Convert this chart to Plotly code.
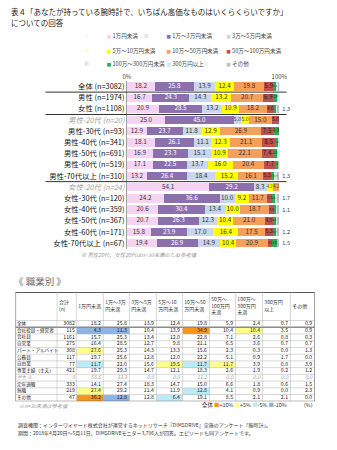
import plotly.graph_objects as go

W, H = 337, 450
FONT = "Noto Sans CJK JP, Noto Sans, sans-serif"


def fx(p):
    return p / W


def fy(p):
    return 1 - p / H


# ---------------- data: stacked bar chart ----------------
bands = ["1万円未満", "1万～3万円未満", "3万～5万円未満", "5万～10万円未満", "10万～50万円未満",
         "50万～100万円未満", "100万～300万円未満", "300万円以上", "その他"]
band_colors = ["#F4D4F2", "#8C70AE", "#C8D7EC", "#FFFF00", "#F5A05A",
               "#C0504D", "#2FA84F", "#C9E8EF", "#BFBFBF"]
band_text_colors = ["#333", "#FFFFFF", "#333", "#333", "#333", "#222", "#222", "#333", "#333"]

groups = ["全体 (n=3082)", "男性 (n=1974)", "女性 (n=1108)",
          "男性-20代 (n=20)", "男性-30代 (n=93)", "男性-40代 (n=341)", "男性-50代 (n=691)",
          "男性-60代 (n=519)", "男性-70代以上 (n=310)",
          "女性-20代 (n=24)", "女性-30代 (n=120)", "女性-40代 (n=359)", "女性-50代 (n=367)",
          "女性-60代 (n=171)", "女性-70代以上 (n=67)"]
reference_groups = ["男性-20代 (n=20)", "女性-20代 (n=24)"]

v_lt1 = [18.2, 16.7, 20.9, 25.0, 12.9, 18.1, 16.9, 17.1, 13.2, 54.1, 24.2, 20.6, 20.7, 15.8, 19.4]
v_1_3 = [25.8, 24.3, 28.5, 45.0, 23.7, 26.1, 23.3, 22.5, 26.4, 29.2, 36.6, 30.4, 26.3, 23.9, 26.9]
v_3_5 = [13.9, 14.3, 13.2, 5.0, 11.8, 11.1, 15.1, 13.7, 18.4, 8.3, 10.0, 13.4, 12.3, 17.0, 14.9]
v_5_10 = [12.4, 13.2, 10.9, 5.0, 12.9, 12.3, 10.9, 16.0, 15.2, 4.2, 9.2, 10.0, 10.4, 16.4, 10.4]
v_10_50 = [19.8, 20.7, 18.2, 15.0, 26.9, 21.1, 22.1, 20.4, 16.1, 4.2, 11.7, 18.7, 21.0, 17.5, 20.9]
v_50_100 = [5.9, 6.9, 4.6, 5.0, 7.5, 8.5, 7.4, 7.7, 5.2, 0.0, 3.3, 3.6, 4.9, 5.3, 3.0]
v_100_300 = [2.4, 2.9, 1.7, 0.0, 4.3, 2.3, 3.2, 1.9, 2.3, 0.0, 2.5, 1.4, 2.4, 2.3, 3.0]
v_300 = [0.7, 0.8, 0.7, 0.0, 0.0, 0.3, 0.9, 0.4, 1.9, 0.0, 0.8, 0.8, 0.6, 0.6, 0.0]
v_other = [0.9, 0.2, 1.3, 0.0, 0.0, 0.2, 0.2, 0.3, 1.3, 0.0, 1.7, 1.1, 1.4, 1.2, 1.5]
band_values = [v_lt1, v_1_3, v_3_5, v_5_10, v_10_50, v_50_100, v_100_300, v_300, v_other]
separator_after = [0, 2, 8]   # lines under 全体, 女性, 男性-70代以上

# ---------------- data: occupation table ----------------
table_headers = ["", "合計<br>(n)", "1万円未満", "1万～3万<br>円未満", "3万～5万<br>円未満",
                 "5万～10<br>万円未満", "10万～50<br>万円未満", "50万～<br>100万円<br>未満",
                 "100万～<br>300万円<br>未満", "300万円<br>以上", "その他"]
occupations = ["全体", "会社役員・経営者", "会社員", "自営業", "パート・アルバイト", "公務員",
               "自由業", "専業主婦（主夫）", "学生 ※", "定年退職", "無職", "その他"]
reference_occupations = ["学生 ※"]
occ_n = [3082, 115, 1161, 275, 308, 117, 77, 421, 9, 333, 219, 47]
t_lt1 = [18.2, 4.3, 15.7, 16.4, 27.6, 19.7, 11.7, 19.7, 55.6, 14.1, 27.4, 36.2]
t_1_3 = [25.8, 11.3, 25.3, 28.5, 25.3, 25.6, 22.0, 29.3, 33.3, 27.4, 29.2, 12.8]
t_3_5 = [13.9, 10.4, 13.4, 12.7, 14.3, 12.8, 15.6, 14.7, 0.0, 18.3, 11.4, 12.8]
t_5_10 = [12.4, 13.9, 12.0, 9.8, 13.3, 12.0, 19.5, 12.1, 0.0, 14.7, 11.9, 6.4]
t_10_50 = [19.8, 34.9, 22.8, 21.1, 15.6, 22.2, 11.7, 18.3, 11.1, 15.0, 12.8, 19.1]
t_50_100 = [5.9, 10.4, 7.1, 6.5, 2.3, 5.1, 11.7, 2.6, 0.0, 6.6, 4.1, 8.5]
t_100_300 = [2.4, 10.4, 2.6, 3.6, 0.3, 0.9, 3.9, 1.9, 0.0, 1.8, 0.9, 2.1]
t_300 = [0.7, 3.5, 0.8, 0.7, 0.0, 1.7, 0.0, 0.2, 0.0, 0.6, 0.0, 2.1]
t_other = [0.9, 0.9, 0.3, 0.7, 1.3, 0.0, 3.9, 1.2, 0.0, 1.5, 2.3, 0.0]
table_cols = [t_lt1, t_1_3, t_3_5, t_5_10, t_10_50, t_50_100, t_100_300, t_300, t_other]

hl_colors = ["#FFFFFF", "#8DB4E2", "#BDEAF7", "#FFFF8C", "#F7941D"]   # none, -10, -5, +5, +10
hl_legend = [("+10%", "#F7941D"), ("+5%", "#FFFF8C"), ("-5%", "#BDEAF7"), ("-10%", "#8DB4E2")]

# ---------------- layout constants (pixels) ----------------
BAR_X0, BAR_X1 = 127.5, 285.5
BAR_Y0, BAR_Y1 = 80.1, 248.3
BAR_FONT = 6.3
TAB_X0 = 12
col_widths = [43, 20, 28, 27, 28, 27, 28, 27, 28, 29, 25]
TAB_Y0 = 291.7
header_h = 28.5
row_h = 6.75
legend_cols_px = [65, 127, 189]
legend_rows_px = [35, 49.5, 63]

fig = go.Figure()

# ---- stacked bars ----
ypos = list(range(len(groups)))
px_per_pct = (BAR_X1 - BAR_X0) / 100.0
lab_x, lab_y, lab_t, lab_s, lab_c = [], [], [], [], []
for bi, (name, vals) in enumerate(zip(bands, band_values)):
    last = bi == len(bands) - 1
    fig.add_trace(go.Bar(
        y=ypos, x=vals, orientation="h", name=name, showlegend=False,
        marker=dict(color=band_colors[bi], line=dict(width=0)),
        text=[(f"{v:.1f}" if v >= 1.0 else "") for v in vals] if last else None,
        texttemplate="%{text}" if last else None,
        textposition="outside" if last else "none",
        textfont=dict(size=5.6, color="#444", family=FONT),
        cliponaxis=False, hoverinfo="skip", xaxis="x", yaxis="y"))
    if not last:
        for gi, v in enumerate(vals):
            start = sum(band_values[k][gi] for k in range(bi))
            if v >= 1.9:
                s = f"{v:.1f}"
                wpx = v * px_per_pct
                size = min(BAR_FONT, 0.92 * wpx / (0.57 * (len(s) - 1) + 0.27))
                lab_x.append(start + v / 2)
                lab_y.append(gi)
                lab_t.append(s)
                lab_s.append(size)
                lab_c.append(band_text_colors[bi])
fig.add_trace(go.Scatter(
    x=lab_x, y=lab_y, text=lab_t, mode="text", textposition="middle center",
    textfont=dict(size=lab_s, color=lab_c, family=FONT),
    hoverinfo="skip", showlegend=False, xaxis="x", yaxis="y", cliponaxis=False))

# ---- legend entries: one small legend per entry, 3 x 3 grid ----
legend_layout = {}
for bi, name in enumerate(bands):
    lid = "legend" if bi == 0 else f"legend{bi + 1}"
    fig.add_trace(go.Scatter(
        x=[None], y=[None], mode="markers", legend=lid,
        name=f"<span style='color:{band_colors[bi]};font-size:4.5px'>■</span> {name}",
        marker=dict(symbol="square", size=4, color=band_colors[bi], opacity=0),
        hoverinfo="skip", xaxis="x", yaxis="y"))
    legend_layout[lid] = dict(
        orientation="h", x=fx(legend_cols_px[bi % 3]), xanchor="left",
        y=fy(legend_rows_px[bi // 3]), yanchor="middle", itemwidth=30,
        font=dict(size=5.6, color="#444", family=FONT), bgcolor="rgba(0,0,0,0)",
        itemclick=False, itemdoubleclick=False)

# ---- occupation table: cell fills as heatmap ----
x_edges = [0]
for w in col_widths:
    x_edges.append(x_edges[-1] + w)
y_edges = [0, header_h] + [header_h + row_h * (i + 1) for i in range(len(occupations))]
tab_w = x_edges[-1]
tab_h = y_edges[-1]

base = [c[0] for c in table_cols]
z = [[0] * len(col_widths)]
for ri, occ in enumerate(occupations):
    row = [0, 0]
    for ci, col in enumerate(table_cols):
        d = col[ri] - base[ci]
        cls = 0
        if ri > 0 and occ not in reference_occupations:
            if d >= 10:
                cls = 4
            elif d >= 5:
                cls = 3
            elif d <= -10:
                cls = 1
            elif d <= -5:
                cls = 2
        row.append(cls)
    z.append(row)

cs = [[i / 4, c] for i, c in enumerate(hl_colors)]
fig.add_trace(go.Heatmap(
    x=x_edges, y=y_edges, z=z, zmin=0, zmax=4, colorscale=cs, showscale=False,
    hoverinfo="skip", xaxis="x2", yaxis="y2"))

# ---- table text ----
tx, ty, tt, tpos, tcol, tsize = [], [], [], [], [], []
for ci, h in enumerate(table_headers):
    if h:
        tx.append(x_edges[ci] + 2)
        ty.append(header_h / 2)
        tt.append(h)
        tpos.append("middle right")
        tcol.append("#333")
        tsize.append(5.0)
for ri, occ in enumerate(occupations):
    yc = header_h + row_h * (ri + 0.5)
    ref = occ in reference_occupations
    color = "#9A9A9A" if ref else "#222"
    wrap = (lambda s: f"<i>{s}</i>") if ref else (lambda s: s)
    tx.append(x_edges[0] + 1.5); ty.append(yc); tt.append(wrap(occ)); tpos.append("middle right")
    tcol.append(color); tsize.append(4.6)
    tx.append(x_edges[2] - 1.5); ty.append(yc); tt.append(wrap(str(occ_n[ri]))); tpos.append("middle left")
    tcol.append(color); tsize.append(5.2)
    for ci, col in enumerate(table_cols):
        tx.append(x_edges[ci + 3] - 2.5); ty.append(yc); tt.append(wrap(f"{col[ri]:.1f}"))
        tpos.append("middle left"); tcol.append(color); tsize.append(5.2)
fig.add_trace(go.Scatter(
    x=tx, y=ty, text=tt, mode="text", textposition=tpos,
    textfont=dict(size=tsize, color=tcol, family=FONT),
    hoverinfo="skip", showlegend=False, xaxis="x2", yaxis="y2", cliponaxis=False))

# ---- shapes ----
shapes = []
for si in separator_after:
    shapes.append(dict(type="line", xref="paper", yref="y", x0=fx(43), x1=fx(293),
                       y0=si + 0.5, y1=si + 0.5, line=dict(color="#333", width=1)))
for i, ye in enumerate(y_edges):
    if i == 0:
        lc, lw = "#222", 1.6
    elif i == 2:
        lc, lw = "#8A8A8A", 1.6
    elif i == len(y_edges) - 1:
        lc, lw = "#555", 1
    else:
        lc, lw = "#B0B0B0", 0.5
    shapes.append(dict(type="line", xref="x2", yref="y2", x0=0, x1=tab_w, y0=ye, y1=ye,
                       line=dict(color=lc, width=lw), layer="above"))
for i, xe in enumerate(x_edges):
    outer = i in (0, len(x_edges) - 1)
    shapes.append(dict(type="line", xref="x2", yref="y2", x0=xe, x1=xe, y0=0, y1=tab_h,
                       line=dict(color="#444" if outer else "#B0B0B0", width=1 if outer else 0.5),
                       layer="above"))

# ---- annotations ----
def ann(text, x, y, size, color="#222", xanchor="left", **kw):
    return dict(text=text, x=fx(x), y=fy(y), xref="paper", yref="paper", showarrow=False,
                xanchor=xanchor, yanchor="middle", font=dict(size=size, color=color, family=FONT), **kw)

legend_html = "全体 " + " ".join(
    f"<span style='color:{c}'>■</span>{lab}" for lab, c in hl_legend)
annotations = [
    ann("表４「あなたが持っている腕時計で、いちばん高価なものはいくらくらいですか」", 5, 11, 7.5),
    ann("についての回答", 5, 21.5, 7.5),
    ann("<i>※ 男性20代、女性20代はn=30未満のため参考値</i>", 78, 255, 5.3, "#9A9A9A"),
    ann("《 職業別 》", 8, 281, 9.5, "#6A6A6A"),
    ann("<i>※n=30未満は参考値</i>", 13, 405, 5.2, "#9A9A9A"),
    ann(legend_html, 296, 405, 5.4, "#333", xanchor="right"),
    ann("(%)", 322, 405, 5.4, "#333", xanchor="right"),
    ann("調査機関：インターワイヤード株式会社が運営するネットリサーチ『DIMSDRIVE』実施のアンケート「腕時計」。",
        12, 424.5, 5.0, "#333"),
    ann("期間：2018年4月20日～5月11日、DIMSDRIVEモニター3,796人が回答。エピソードも同アンケートです。",
        12, 432.5, 5.0, "#333"),
]

ticktext = [f"<span style='color:#A0A0A0'><i>{g}</i></span>" if g in reference_groups else g
            for g in groups]

fig.update_layout(
    width=W, height=H, margin=dict(l=0, r=0, t=0, b=0),
    paper_bgcolor="white", plot_bgcolor="white",
    font=dict(family=FONT, color="#222"),
    barmode="stack", bargap=0.25,
    xaxis=dict(domain=[fx(BAR_X0), fx(BAR_X1)], range=[0, 100], side="top",
               tickvals=[0, 100], ticktext=["0%", "100%"], tickfont=dict(size=6, color="#444"),
               showgrid=False, zeroline=False, ticks="", fixedrange=True),
    yaxis=dict(domain=[fy(BAR_Y1), fy(BAR_Y0)], range=[len(groups) - 0.5, -0.5],
               tickvals=ypos, ticktext=ticktext, tickfont=dict(size=7.4, color="#111"),
               showline=True, linecolor="#A0A0A0", linewidth=1, ticks="",
               showgrid=False, zeroline=False, fixedrange=True),
    xaxis2=dict(domain=[fx(TAB_X0), fx(TAB_X0 + tab_w)], range=[0, tab_w], visible=False,
                fixedrange=True),
    yaxis2=dict(domain=[fy(TAB_Y0 + tab_h), fy(TAB_Y0)], range=[tab_h, 0], visible=False,
                fixedrange=True),
    shapes=shapes, annotations=annotations,
    **legend_layout,
)

fig.write_html("out.html")
